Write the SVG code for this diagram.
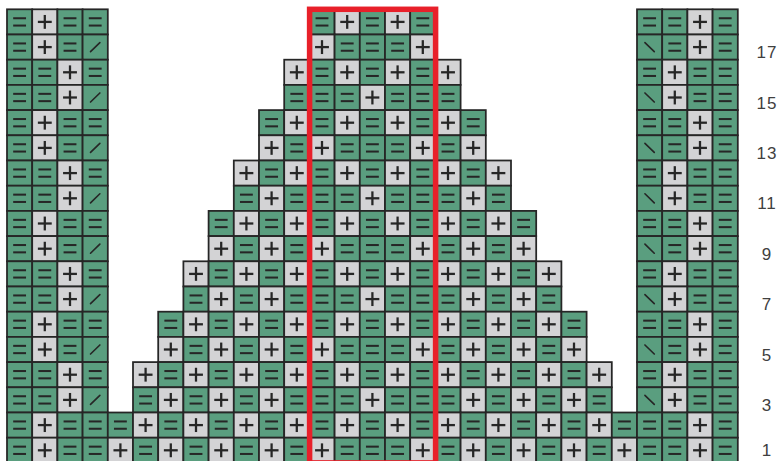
<svg xmlns="http://www.w3.org/2000/svg" width="780" height="461" viewBox="0 0 780 461">
<style>
.cg{fill:#5a9e7f;stroke:#262626;stroke-width:1.4}
.cl{fill:#d3d3d5;stroke:#262626;stroke-width:1.4}
.k{fill:#262626}
.ln{stroke:#262626;stroke-width:1.3;stroke-linecap:round;fill:none}
.lbl{font-family:"Liberation Sans",Arial,sans-serif;font-size:17px;fill:#404040;text-anchor:middle;letter-spacing:1px}
</style>
<defs>
<g id="E"><rect class="cg" width="20" height="20"/><rect class="k" x="4.9" y="6.3" width="10.2" height="1.6"/><rect class="k" x="4.9" y="12.1" width="10.2" height="1.6"/></g>
<g id="P"><rect class="cl" width="20" height="20"/><rect class="k" x="4.5" y="9.1" width="11" height="1.8"/><rect class="k" x="9.1" y="4.5" width="1.8" height="11"/></g>
<g id="S"><rect class="cg" width="20" height="20"/><line class="ln" x1="6.3" y1="13.6" x2="13.7" y2="6.4"/></g>
<g id="B"><rect class="cg" width="20" height="20"/><line class="ln" x1="6.3" y1="6.4" x2="13.7" y2="13.6"/></g>
</defs>
<g id="chart" transform="translate(7 9.3) scale(1.26)">
<g id="r18" transform="translate(0 0)">
<use href="#E" x="0"/><use href="#P" x="20"/><use href="#E" x="40"/><use href="#E" x="60"/>
<use href="#E" x="240"/><use href="#P" x="260"/><use href="#E" x="280"/><use href="#P" x="300"/><use href="#E" x="320"/>
<use href="#E" x="500"/><use href="#E" x="520"/><use href="#P" x="540"/><use href="#E" x="560"/>
</g>
<g id="r17" transform="translate(0 20)">
<use href="#E" x="0"/><use href="#P" x="20"/><use href="#E" x="40"/><use href="#S" x="60"/>
<use href="#P" x="240"/><use href="#E" x="260"/><use href="#E" x="280"/><use href="#E" x="300"/><use href="#P" x="320"/>
<use href="#B" x="500"/><use href="#E" x="520"/><use href="#P" x="540"/><use href="#E" x="560"/>
</g>
<g id="r16" transform="translate(0 40)">
<use href="#E" x="0"/><use href="#E" x="20"/><use href="#P" x="40"/><use href="#E" x="60"/>
<use href="#P" x="220"/><use href="#E" x="240"/><use href="#P" x="260"/><use href="#E" x="280"/><use href="#P" x="300"/><use href="#E" x="320"/><use href="#P" x="340"/>
<use href="#E" x="500"/><use href="#P" x="520"/><use href="#E" x="540"/><use href="#E" x="560"/>
</g>
<g id="r15" transform="translate(0 60)">
<use href="#E" x="0"/><use href="#E" x="20"/><use href="#P" x="40"/><use href="#S" x="60"/>
<use href="#E" x="220"/><use href="#E" x="240"/><use href="#E" x="260"/><use href="#P" x="280"/><use href="#E" x="300"/><use href="#E" x="320"/><use href="#E" x="340"/>
<use href="#B" x="500"/><use href="#P" x="520"/><use href="#E" x="540"/><use href="#E" x="560"/>
</g>
<g id="r14" transform="translate(0 80)">
<use href="#E" x="0"/><use href="#P" x="20"/><use href="#E" x="40"/><use href="#E" x="60"/>
<use href="#E" x="200"/><use href="#P" x="220"/><use href="#E" x="240"/><use href="#P" x="260"/><use href="#E" x="280"/><use href="#P" x="300"/><use href="#E" x="320"/><use href="#P" x="340"/><use href="#E" x="360"/>
<use href="#E" x="500"/><use href="#E" x="520"/><use href="#P" x="540"/><use href="#E" x="560"/>
</g>
<g id="r13" transform="translate(0 100)">
<use href="#E" x="0"/><use href="#P" x="20"/><use href="#E" x="40"/><use href="#S" x="60"/>
<use href="#P" x="200"/><use href="#E" x="220"/><use href="#P" x="240"/><use href="#E" x="260"/><use href="#E" x="280"/><use href="#E" x="300"/><use href="#P" x="320"/><use href="#E" x="340"/><use href="#P" x="360"/>
<use href="#B" x="500"/><use href="#E" x="520"/><use href="#P" x="540"/><use href="#E" x="560"/>
</g>
<g id="r12" transform="translate(0 120)">
<use href="#E" x="0"/><use href="#E" x="20"/><use href="#P" x="40"/><use href="#E" x="60"/>
<use href="#P" x="180"/><use href="#E" x="200"/><use href="#P" x="220"/><use href="#E" x="240"/><use href="#P" x="260"/><use href="#E" x="280"/><use href="#P" x="300"/><use href="#E" x="320"/><use href="#P" x="340"/><use href="#E" x="360"/><use href="#P" x="380"/>
<use href="#E" x="500"/><use href="#P" x="520"/><use href="#E" x="540"/><use href="#E" x="560"/>
</g>
<g id="r11" transform="translate(0 140)">
<use href="#E" x="0"/><use href="#E" x="20"/><use href="#P" x="40"/><use href="#S" x="60"/>
<use href="#E" x="180"/><use href="#P" x="200"/><use href="#E" x="220"/><use href="#E" x="240"/><use href="#E" x="260"/><use href="#P" x="280"/><use href="#E" x="300"/><use href="#E" x="320"/><use href="#E" x="340"/><use href="#P" x="360"/><use href="#E" x="380"/>
<use href="#B" x="500"/><use href="#P" x="520"/><use href="#E" x="540"/><use href="#E" x="560"/>
</g>
<g id="r10" transform="translate(0 160)">
<use href="#E" x="0"/><use href="#P" x="20"/><use href="#E" x="40"/><use href="#E" x="60"/>
<use href="#E" x="160"/><use href="#P" x="180"/><use href="#E" x="200"/><use href="#P" x="220"/><use href="#E" x="240"/><use href="#P" x="260"/><use href="#E" x="280"/><use href="#P" x="300"/><use href="#E" x="320"/><use href="#P" x="340"/><use href="#E" x="360"/><use href="#P" x="380"/><use href="#E" x="400"/>
<use href="#E" x="500"/><use href="#E" x="520"/><use href="#P" x="540"/><use href="#E" x="560"/>
</g>
<g id="r9" transform="translate(0 180)">
<use href="#E" x="0"/><use href="#P" x="20"/><use href="#E" x="40"/><use href="#S" x="60"/>
<use href="#P" x="160"/><use href="#E" x="180"/><use href="#P" x="200"/><use href="#E" x="220"/><use href="#P" x="240"/><use href="#E" x="260"/><use href="#E" x="280"/><use href="#E" x="300"/><use href="#P" x="320"/><use href="#E" x="340"/><use href="#P" x="360"/><use href="#E" x="380"/><use href="#P" x="400"/>
<use href="#B" x="500"/><use href="#E" x="520"/><use href="#P" x="540"/><use href="#E" x="560"/>
</g>
<g id="r8" transform="translate(0 200)">
<use href="#E" x="0"/><use href="#E" x="20"/><use href="#P" x="40"/><use href="#E" x="60"/>
<use href="#P" x="140"/><use href="#E" x="160"/><use href="#P" x="180"/><use href="#E" x="200"/><use href="#P" x="220"/><use href="#E" x="240"/><use href="#P" x="260"/><use href="#E" x="280"/><use href="#P" x="300"/><use href="#E" x="320"/><use href="#P" x="340"/><use href="#E" x="360"/><use href="#P" x="380"/><use href="#E" x="400"/><use href="#P" x="420"/>
<use href="#E" x="500"/><use href="#P" x="520"/><use href="#E" x="540"/><use href="#E" x="560"/>
</g>
<g id="r7" transform="translate(0 220)">
<use href="#E" x="0"/><use href="#E" x="20"/><use href="#P" x="40"/><use href="#S" x="60"/>
<use href="#E" x="140"/><use href="#P" x="160"/><use href="#E" x="180"/><use href="#P" x="200"/><use href="#E" x="220"/><use href="#E" x="240"/><use href="#E" x="260"/><use href="#P" x="280"/><use href="#E" x="300"/><use href="#E" x="320"/><use href="#E" x="340"/><use href="#P" x="360"/><use href="#E" x="380"/><use href="#P" x="400"/><use href="#E" x="420"/>
<use href="#B" x="500"/><use href="#P" x="520"/><use href="#E" x="540"/><use href="#E" x="560"/>
</g>
<g id="r6" transform="translate(0 240)">
<use href="#E" x="0"/><use href="#P" x="20"/><use href="#E" x="40"/><use href="#E" x="60"/>
<use href="#E" x="120"/><use href="#P" x="140"/><use href="#E" x="160"/><use href="#P" x="180"/><use href="#E" x="200"/><use href="#P" x="220"/><use href="#E" x="240"/><use href="#P" x="260"/><use href="#E" x="280"/><use href="#P" x="300"/><use href="#E" x="320"/><use href="#P" x="340"/><use href="#E" x="360"/><use href="#P" x="380"/><use href="#E" x="400"/><use href="#P" x="420"/><use href="#E" x="440"/>
<use href="#E" x="500"/><use href="#E" x="520"/><use href="#P" x="540"/><use href="#E" x="560"/>
</g>
<g id="r5" transform="translate(0 260)">
<use href="#E" x="0"/><use href="#P" x="20"/><use href="#E" x="40"/><use href="#S" x="60"/>
<use href="#P" x="120"/><use href="#E" x="140"/><use href="#P" x="160"/><use href="#E" x="180"/><use href="#P" x="200"/><use href="#E" x="220"/><use href="#P" x="240"/><use href="#E" x="260"/><use href="#E" x="280"/><use href="#E" x="300"/><use href="#P" x="320"/><use href="#E" x="340"/><use href="#P" x="360"/><use href="#E" x="380"/><use href="#P" x="400"/><use href="#E" x="420"/><use href="#P" x="440"/>
<use href="#B" x="500"/><use href="#E" x="520"/><use href="#P" x="540"/><use href="#E" x="560"/>
</g>
<g id="r4" transform="translate(0 280)">
<use href="#E" x="0"/><use href="#E" x="20"/><use href="#P" x="40"/><use href="#E" x="60"/>
<use href="#P" x="100"/><use href="#E" x="120"/><use href="#P" x="140"/><use href="#E" x="160"/><use href="#P" x="180"/><use href="#E" x="200"/><use href="#P" x="220"/><use href="#E" x="240"/><use href="#P" x="260"/><use href="#E" x="280"/><use href="#P" x="300"/><use href="#E" x="320"/><use href="#P" x="340"/><use href="#E" x="360"/><use href="#P" x="380"/><use href="#E" x="400"/><use href="#P" x="420"/><use href="#E" x="440"/><use href="#P" x="460"/>
<use href="#E" x="500"/><use href="#P" x="520"/><use href="#E" x="540"/><use href="#E" x="560"/>
</g>
<g id="r3" transform="translate(0 300)">
<use href="#E" x="0"/><use href="#E" x="20"/><use href="#P" x="40"/><use href="#S" x="60"/>
<use href="#E" x="100"/><use href="#P" x="120"/><use href="#E" x="140"/><use href="#P" x="160"/><use href="#E" x="180"/><use href="#P" x="200"/><use href="#E" x="220"/><use href="#E" x="240"/><use href="#E" x="260"/><use href="#P" x="280"/><use href="#E" x="300"/><use href="#E" x="320"/><use href="#E" x="340"/><use href="#P" x="360"/><use href="#E" x="380"/><use href="#P" x="400"/><use href="#E" x="420"/><use href="#P" x="440"/><use href="#E" x="460"/>
<use href="#B" x="500"/><use href="#P" x="520"/><use href="#E" x="540"/><use href="#E" x="560"/>
</g>
<g id="r2" transform="translate(0 320)">
<use href="#E" x="0"/><use href="#P" x="20"/><use href="#E" x="40"/><use href="#E" x="60"/><use href="#E" x="80"/>
<use href="#P" x="100"/><use href="#E" x="120"/><use href="#P" x="140"/><use href="#E" x="160"/><use href="#P" x="180"/><use href="#E" x="200"/><use href="#P" x="220"/><use href="#E" x="240"/><use href="#P" x="260"/><use href="#E" x="280"/><use href="#P" x="300"/><use href="#E" x="320"/><use href="#P" x="340"/><use href="#E" x="360"/><use href="#P" x="380"/><use href="#E" x="400"/><use href="#P" x="420"/><use href="#E" x="440"/><use href="#P" x="460"/>
<use href="#E" x="480"/><use href="#E" x="500"/><use href="#E" x="520"/><use href="#P" x="540"/><use href="#E" x="560"/>
</g>
<g id="r1" transform="translate(0 340)">
<use href="#E" x="0"/><use href="#P" x="20"/><use href="#E" x="40"/><use href="#E" x="60"/><use href="#P" x="80"/>
<use href="#E" x="100"/><use href="#P" x="120"/><use href="#E" x="140"/><use href="#P" x="160"/><use href="#E" x="180"/><use href="#P" x="200"/><use href="#E" x="220"/><use href="#P" x="240"/><use href="#E" x="260"/><use href="#E" x="280"/><use href="#E" x="300"/><use href="#P" x="320"/><use href="#E" x="340"/><use href="#P" x="360"/><use href="#E" x="380"/><use href="#P" x="400"/><use href="#E" x="420"/><use href="#P" x="440"/><use href="#E" x="460"/>
<use href="#P" x="480"/><use href="#E" x="500"/><use href="#E" x="520"/><use href="#P" x="540"/><use href="#E" x="560"/>
</g>
</g>
<rect id="repeat" x="309.6" y="9.3" width="126" height="453.6" fill="none" stroke="#e8202a" stroke-width="5.5"/>
<g id="labels">
<text class="lbl" x="767" y="58.2">17</text>
<text class="lbl" x="767" y="108.6">15</text>
<text class="lbl" x="767" y="159">13</text>
<text class="lbl" x="767" y="209.4">11</text>
<text class="lbl" x="767" y="259.8">9</text>
<text class="lbl" x="767" y="310.2">7</text>
<text class="lbl" x="767" y="360.6">5</text>
<text class="lbl" x="767" y="411">3</text>
<text class="lbl" x="767" y="456">1</text>
</g>
</svg>
